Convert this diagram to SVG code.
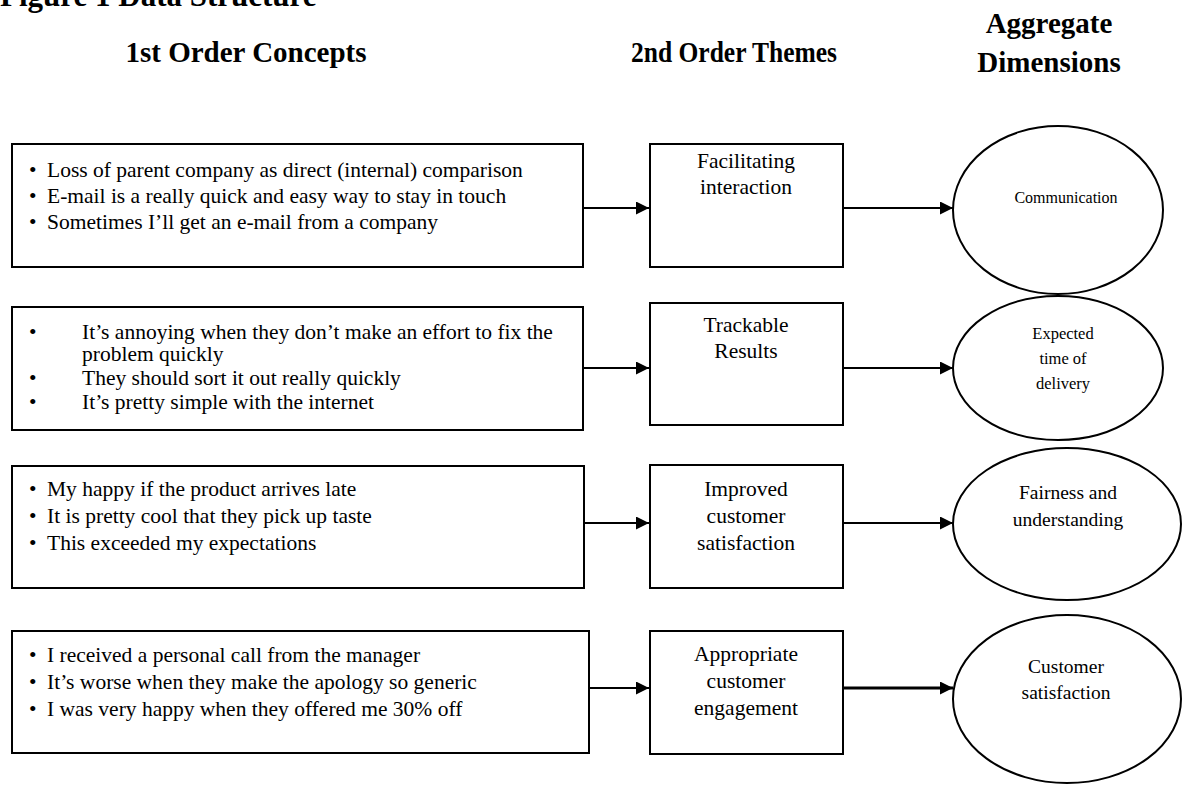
<svg xmlns="http://www.w3.org/2000/svg" width="1182" height="789" viewBox="0 0 1182 789">
<style>
.box{fill:#fff;stroke:#000;stroke-width:2}
.ell{fill:#fff;stroke:#000;stroke-width:2}
.t{font-family:"Liberation Serif","Times New Roman",serif;font-size:21.5px;fill:#000}
.c{text-anchor:middle}
.s16{font-size:16px}
.s17{font-size:16.5px}
.s20{font-size:19.5px}
.h{font-family:"Liberation Serif","Times New Roman",serif;font-weight:bold;font-size:29px;fill:#000;text-anchor:middle}
.ln{stroke:#000;stroke-width:2;fill:none}
.thick{stroke-width:3}
</style>
<defs>
<marker id="ah" viewBox="0 0 10 10" refX="10" refY="5" markerWidth="15" markerHeight="13" markerUnits="userSpaceOnUse" orient="auto">
<path d="M0,0 L10,5 L0,10 Z" fill="#000"/>
</marker>
</defs>
<rect width="1182" height="789" fill="#fff"/>
<g id="title">
<text x="0" y="6" font-family="Liberation Serif, serif" font-weight="bold" font-size="31">Figure 1 Data Structure</text>
</g>
<g id="headers">
<text class="h" x="246" y="62">1st Order Concepts</text>
<text class="h" x="734" y="62" textLength="206" lengthAdjust="spacingAndGlyphs">2nd Order Themes</text>
<text class="h" x="1049" y="33">Aggregate</text>
<text class="h" x="1049" y="72">Dimensions</text>
</g>
<g id="c1">
<rect class="box" x="12" y="144" width="571" height="123"/>
<text class="t" x="29" y="177">•</text><text class="t" x="47" y="177">Loss of parent company as direct (internal) comparison</text>
<text class="t" x="29" y="203">•</text><text class="t" x="47" y="203">E-mail is a really quick and easy way to stay in touch</text>
<text class="t" x="29" y="229">•</text><text class="t" x="47" y="229">Sometimes I’ll get an e-mail from a company</text>
</g>
<g id="c2">
<rect class="box" x="12" y="307" width="571" height="123"/>
<text class="t" x="29" y="339">•</text><text class="t" x="82" y="339">It’s annoying when they don’t make an effort to fix the</text>
<text class="t" x="82" y="361">problem quickly</text>
<text class="t" x="29" y="385">•</text><text class="t" x="82" y="385">They should sort it out really quickly</text>
<text class="t" x="29" y="409">•</text><text class="t" x="82" y="409">It’s pretty simple with the internet</text>
</g>
<g id="c3">
<rect class="box" x="12" y="466" width="572" height="122"/>
<text class="t" x="29" y="496">•</text><text class="t" x="47" y="496">My happy if the product arrives late</text>
<text class="t" x="29" y="523">•</text><text class="t" x="47" y="523">It is pretty cool that they pick up taste</text>
<text class="t" x="29" y="550">•</text><text class="t" x="47" y="550">This exceeded my expectations</text>
</g>
<g id="c4">
<rect class="box" x="12" y="631" width="577" height="122"/>
<text class="t" x="29" y="662">•</text><text class="t" x="47" y="662">I received a personal call from the manager</text>
<text class="t" x="29" y="689">•</text><text class="t" x="47" y="689">It’s worse when they make the apology so generic</text>
<text class="t" x="29" y="716">•</text><text class="t" x="47" y="716">I was very happy when they offered me 30% off</text>
</g>
<g id="t1">
<rect class="box" x="650" y="144" width="193" height="123"/>
<text class="t c" x="746" y="168">Facilitating</text>
<text class="t c" x="746" y="194">interaction</text>
</g>
<g id="t2">
<rect class="box" x="650" y="303" width="193" height="122"/>
<text class="t c" x="746" y="332">Trackable</text>
<text class="t c" x="746" y="358">Results</text>
</g>
<g id="t3">
<rect class="box" x="650" y="465" width="193" height="123"/>
<text class="t c" x="746" y="496">Improved</text>
<text class="t c" x="746" y="523">customer</text>
<text class="t c" x="746" y="550">satisfaction</text>
</g>
<g id="t4">
<rect class="box" x="650" y="631" width="193" height="123"/>
<text class="t c" x="746" y="661">Appropriate</text>
<text class="t c" x="746" y="688">customer</text>
<text class="t c" x="746" y="715">engagement</text>
</g>
<g id="a1">
<ellipse class="ell" cx="1058" cy="210" rx="105" ry="84"/>
<text class="t c s16" x="1066" y="203">Communication</text>
</g>
<g id="a2">
<ellipse class="ell" cx="1058" cy="368" rx="105" ry="72"/>
<text class="t c s17" x="1063" y="339">Expected</text>
<text class="t c s17" x="1063" y="364">time of</text>
<text class="t c s17" x="1063" y="389">delivery</text>
</g>
<g id="a3">
<ellipse class="ell" cx="1067" cy="524" rx="114" ry="76"/>
<text class="t c s20" x="1068" y="499">Fairness and</text>
<text class="t c s20" x="1068" y="526">understanding</text>
</g>
<g id="a4">
<ellipse class="ell" cx="1067" cy="699" rx="114" ry="84"/>
<text class="t c s20" x="1066" y="673">Customer</text>
<text class="t c s20" x="1066" y="699">satisfaction</text>
</g>
<g id="connectors">
<line class="ln" x1="583" y1="208" x2="649" y2="208" marker-end="url(#ah)"/>
<line class="ln" x1="843" y1="208" x2="953" y2="208" marker-end="url(#ah)"/>
<line class="ln" x1="584" y1="368" x2="649" y2="368" marker-end="url(#ah)"/>
<line class="ln" x1="843" y1="368" x2="953" y2="368" marker-end="url(#ah)"/>
<line class="ln" x1="584" y1="523" x2="649" y2="523" marker-end="url(#ah)"/>
<line class="ln" x1="843" y1="523" x2="953" y2="523" marker-end="url(#ah)"/>
<line class="ln" x1="589" y1="688" x2="649" y2="688" marker-end="url(#ah)"/>
<line class="ln thick" x1="843" y1="688" x2="953" y2="688" marker-end="url(#ah)"/>
</g>
</svg>
